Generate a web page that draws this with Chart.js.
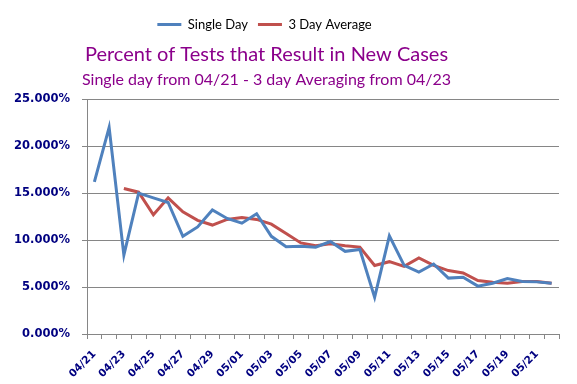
<!DOCTYPE html>
<html>
<head>
<meta charset="utf-8">
<script src="https://cdn.jsdelivr.net/npm/chart.js@4/dist/chart.umd.min.js"></script>
<style>
  html, body { margin: 0; padding: 0; background: #fff; }
  #wrap { width: 577px; height: 384px; }
</style>
</head>
<body>
<div id="wrap"><canvas id="chart" width="577" height="384"></canvas></div>
<script>
// dates shown on the category axis (one per day)
const days = [
  '04/21', '04/22', '04/23', '04/24', '04/25', '04/26', '04/27', '04/28', '04/29', '04/30',
  '05/01', '05/02', '05/03', '05/04', '05/05', '05/06', '05/07', '05/08', '05/09', '05/10',
  '05/11', '05/12', '05/13', '05/14', '05/15', '05/16', '05/17', '05/18', '05/19', '05/20',
  '05/21', '05/22'
];

// percent positive, single day
const singleDay = [
  16.2, 22.0, 8.4, 15.0, 14.5, 14.0, 10.4, 11.4, 13.2, 12.3,
  11.8, 12.8, 10.4, 9.3, 9.35, 9.25, 9.85, 8.8, 9.0, 3.9,
  10.45, 7.3, 6.6, 7.45, 5.95, 6.05, 5.1, 5.4, 5.9, 5.6,
  5.55, 5.4
];

// 3 day average, starts on 04/23
const threeDayAvg = [
  null, null, 15.5, 15.1, 12.7, 14.5, 13.0, 12.1, 11.6, 12.2,
  12.4, 12.2, 11.7, 10.7, 9.7, 9.4, 9.6, 9.4, 9.25, 7.3,
  7.7, 7.2, 8.1, 7.3, 6.75, 6.5, 5.7, 5.5, 5.4, 5.6,
  5.6, 5.4
];

const yTicks = [0, 5, 10, 15, 20, 25];

const gridGray = '#868686';
const navy = '#000080';
const purple = '#8B008B';
const yFont = { family: "'DejaVu Sans', Verdana, sans-serif", size: 11.5, weight: 'bold' };
const xFont = { family: "'DejaVu Sans', Verdana, sans-serif", size: 10.5, weight: 'bold' };

// the header block in the original sits a little left of the canvas centre
const shiftHeader = {
  id: 'shiftHeader',
  afterLayout(chart) {
    chart.boxes.forEach(b => {
      if (b.position !== 'top' || b.axis) return;
      const dx = b === chart.legend ? -15 : -13;
      b.left += dx;
      b.right += dx;
    });
  }
};

new Chart(document.getElementById('chart'), {
  type: 'line',
  data: {
    labels: days,
    datasets: [
      {
        label: 'Single Day',
        data: singleDay,
        borderColor: '#4F81BD',
        backgroundColor: '#4F81BD',
        borderWidth: 3,
        pointRadius: 0,
        tension: 0
      },
      {
        label: '3 Day Average',
        data: threeDayAvg,
        borderColor: '#C0504D',
        backgroundColor: '#C0504D',
        borderWidth: 3,
        pointRadius: 0,
        tension: 0,
        spanGaps: false
      }
    ]
  },
  plugins: [shiftHeader],
  options: {
    responsive: false,
    animation: false,
    layout: { padding: { top: 8, right: 18, bottom: 0, left: 0 } },
    plugins: {
      tooltip: { enabled: false },
      legend: {
        position: 'top',
        weight: 3000,
        labels: {
          boxWidth: 24,
          boxHeight: 3,
          padding: 10,
          color: '#000',
          font: { family: 'Lato, sans-serif', size: 13 },
          generateLabels: chart => Chart.defaults.plugins.legend.labels.generateLabels(chart)
            .map(item => ({ ...item, fillStyle: item.strokeStyle, lineWidth: 0 }))
        }
      },
      title: {
        display: true,
        text: 'Percent of Tests that Result in New Cases',
        color: purple,
        font: { family: 'Lato, sans-serif', size: 20, weight: 'normal' },
        padding: { top: 2, bottom: 2 }
      },
      subtitle: {
        display: true,
        text: 'Single day from 04/21 - 3 day Averaging from 04/23',
        color: purple,
        font: { family: 'Lato, sans-serif', size: 16, weight: 'normal' },
        padding: { top: 1, bottom: 10 }
      }
    },
    scales: {
      x: {
        type: 'category',
        offset: true,
        afterFit: s => { s.height = 50; },
        grid: {
          offset: true,
          drawOnChartArea: false,
          drawTicks: true,
          tickLength: 5,
          color: gridGray
        },
        border: { display: true, color: gridGray, width: 1 },
        ticks: {
          autoSkip: false,
          maxRotation: 45,
          minRotation: 45,
          padding: 9,
          color: navy,
          font: xFont,
          callback: (v, i) => (i % 2 === 0 ? days[i] : '')
        }
      },
      y: {
        min: yTicks[0],
        max: yTicks[yTicks.length - 1],
        afterFit: s => { s.width = 87; },
        afterBuildTicks: s => { s.ticks = yTicks.map(v => ({ value: v })); },
        grid: {
          color: gridGray,
          lineWidth: 1,
          drawTicks: true,
          tickLength: 5,
          tickColor: gridGray
        },
        border: { display: true, color: gridGray, width: 1 },
        ticks: {
          padding: 12,
          color: navy,
          font: yFont,
          callback: v => v.toFixed(3) + '%'
        }
      }
    }
  }
});
</script>
</body>
</html>
